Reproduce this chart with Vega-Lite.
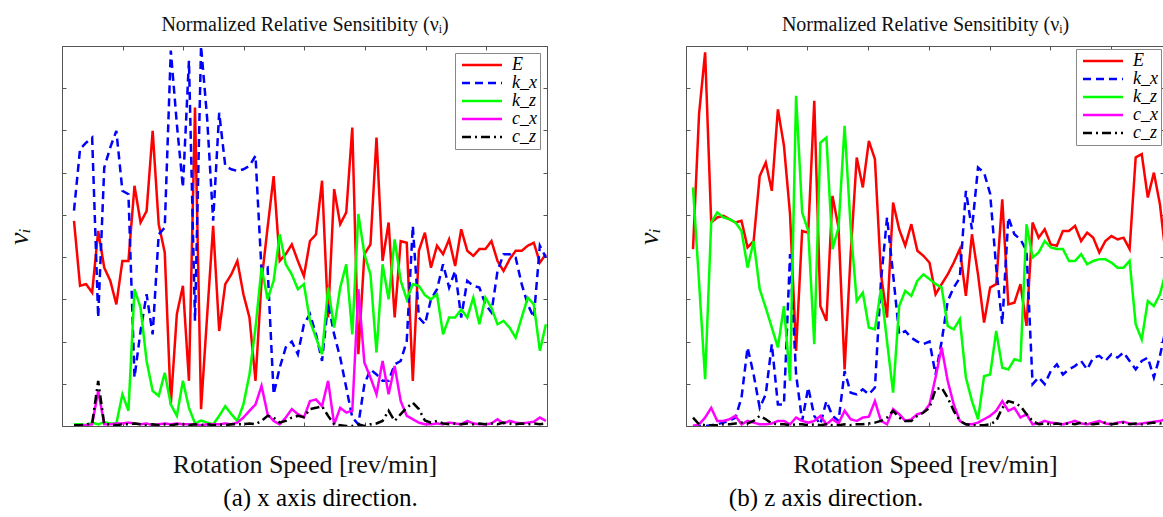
{
  "$schema": "https://vega.github.io/schema/vega-lite/v6.json",
  "padding": {"left": 5, "top": 14, "right": 0, "bottom": 0},
  "spacing": 87,
  "background": "white",
  "config": {
    "view": {"stroke": "#555", "strokeWidth": 1},
    "axis": {"labels": false, "tickSize": -4, "domainColor": "#555", "tickColor": "#555", "grid": false, "titleFont": "Liberation Serif", "titleFontWeight": "normal", "titleColor": "#111"},
    "legend": {"symbolType": "M-1,0H7", "symbolSize": 100, "symbolStrokeWidth": 2.5, "labelFont": "Liberation Serif", "labelFontSize": 18, "labelFontStyle": "italic", "labelColor": "#000", "labelOffset": 36, "strokeColor": "#888", "fillColor": "white", "padding": 3, "rowPadding": 0, "orient": "top-right"}
  },
  "datasets": {
    "a": [
      {"i":1,"E":0.486,"k_x":0.51,"k_z":0.004,"c_x":0.002,"c_z":0.002},
      {"i":2,"E":0.332,"k_x":0.656,"k_z":0.004,"c_x":0.002,"c_z":0.002},
      {"i":3,"E":0.336,"k_x":0.671,"k_z":0.002,"c_x":0.002,"c_z":0.004},
      {"i":4,"E":0.316,"k_x":0.683,"k_z":0.008,"c_x":0.004,"c_z":0.006},
      {"i":5,"E":0.462,"k_x":0.257,"k_z":0.004,"c_x":0.083,"c_z":0.107},
      {"i":6,"E":0.375,"k_x":0.612,"k_z":0.009,"c_x":0.004,"c_z":0.004},
      {"i":7,"E":0.344,"k_x":0.66,"k_z":0.006,"c_x":0.004,"c_z":0.004},
      {"i":8,"E":0.288,"k_x":0.699,"k_z":0.006,"c_x":0.006,"c_z":0.002},
      {"i":9,"E":0.391,"k_x":0.557,"k_z":0.075,"c_x":0.006,"c_z":0.004},
      {"i":10,"E":0.391,"k_x":0.549,"k_z":0.036,"c_x":0.008,"c_z":0.004},
      {"i":11,"E":0.569,"k_x":0.115,"k_z":0.324,"c_x":0.006,"c_z":0.006},
      {"i":12,"E":0.482,"k_x":0.225,"k_z":0.28,"c_x":0.004,"c_z":0.004},
      {"i":13,"E":0.509,"k_x":0.312,"k_z":0.154,"c_x":0.006,"c_z":0.002},
      {"i":14,"E":0.699,"k_x":0.217,"k_z":0.083,"c_x":0.002,"c_z":0.004},
      {"i":15,"E":0.478,"k_x":0.454,"k_z":0.071,"c_x":0.004,"c_z":0.002},
      {"i":16,"E":0.411,"k_x":0.47,"k_z":0.126,"c_x":0.006,"c_z":0.004},
      {"i":17,"E":0.051,"k_x":0.889,"k_z":0.051,"c_x":0.004,"c_z":0.002},
      {"i":18,"E":0.265,"k_x":0.715,"k_z":0.024,"c_x":0.006,"c_z":0.004},
      {"i":19,"E":0.332,"k_x":0.565,"k_z":0.107,"c_x":0.004,"c_z":0.004},
      {"i":20,"E":0.107,"k_x":0.865,"k_z":0.043,"c_x":0.004,"c_z":0.002},
      {"i":21,"E":0.754,"k_x":0.249,"k_z":0.006,"c_x":0.004,"c_z":0.004},
      {"i":22,"E":0.04,"k_x":0.9,"k_z":0.013,"c_x":0.002,"c_z":0.002},
      {"i":23,"E":0.26,"k_x":0.73,"k_z":0.008,"c_x":0.004,"c_z":0.004},
      {"i":24,"E":0.474,"k_x":0.486,"k_z":0.004,"c_x":0.004,"c_z":0.002},
      {"i":25,"E":0.225,"k_x":0.742,"k_z":0.024,"c_x":0.004,"c_z":0.004},
      {"i":26,"E":0.336,"k_x":0.616,"k_z":0.047,"c_x":0.006,"c_z":0.002},
      {"i":27,"E":0.359,"k_x":0.608,"k_z":0.028,"c_x":0.004,"c_z":0.004},
      {"i":28,"E":0.391,"k_x":0.604,"k_z":0.012,"c_x":0.008,"c_z":0.004},
      {"i":29,"E":0.312,"k_x":0.608,"k_z":0.051,"c_x":0.02,"c_z":0.004},
      {"i":30,"E":0.257,"k_x":0.616,"k_z":0.122,"c_x":0.036,"c_z":0.006},
      {"i":31,"E":0.107,"k_x":0.64,"k_z":0.233,"c_x":0.051,"c_z":0.004},
      {"i":32,"E":0.344,"k_x":0.367,"k_z":0.375,"c_x":0.095,"c_z":0.012},
      {"i":33,"E":0.47,"k_x":0.375,"k_z":0.3,"c_x":0.028,"c_z":0.024},
      {"i":34,"E":0.592,"k_x":0.075,"k_z":0.344,"c_x":0.012,"c_z":0.02},
      {"i":35,"E":0.391,"k_x":0.138,"k_z":0.454,"c_x":0.004,"c_z":0.008},
      {"i":36,"E":0.407,"k_x":0.186,"k_z":0.383,"c_x":0.02,"c_z":0.012},
      {"i":37,"E":0.43,"k_x":0.2,"k_z":0.359,"c_x":0.04,"c_z":0.02},
      {"i":38,"E":0.391,"k_x":0.17,"k_z":0.324,"c_x":0.028,"c_z":0.024},
      {"i":39,"E":0.355,"k_x":0.241,"k_z":0.336,"c_x":0.02,"c_z":0.021},
      {"i":40,"E":0.438,"k_x":0.265,"k_z":0.249,"c_x":0.059,"c_z":0.04},
      {"i":41,"E":0.454,"k_x":0.217,"k_z":0.209,"c_x":0.063,"c_z":0.043},
      {"i":42,"E":0.581,"k_x":0.154,"k_z":0.17,"c_x":0.047,"c_z":0.047},
      {"i":43,"E":0.257,"k_x":0.292,"k_z":0.328,"c_x":0.107,"c_z":0.024},
      {"i":44,"E":0.561,"k_x":0.217,"k_z":0.233,"c_x":0.004,"c_z":0.004},
      {"i":45,"E":0.478,"k_x":0.162,"k_z":0.328,"c_x":0.043,"c_z":0.002},
      {"i":46,"E":0.506,"k_x":0.091,"k_z":0.383,"c_x":0.032,"c_z":0},
      {"i":47,"E":0.707,"k_x":0.02,"k_z":0.217,"c_x":0.036,"c_z":0},
      {"i":48,"E":0.17,"k_x":0.004,"k_z":0.502,"c_x":0.324,"c_z":0.004},
      {"i":49,"E":0.407,"k_x":0.099,"k_z":0.407,"c_x":0.15,"c_z":0},
      {"i":50,"E":0.43,"k_x":0.134,"k_z":0.359,"c_x":0.115,"c_z":0.004},
      {"i":51,"E":0.683,"k_x":0.122,"k_z":0.174,"c_x":0.075,"c_z":0.006},
      {"i":52,"E":0.391,"k_x":0.107,"k_z":0.383,"c_x":0.154,"c_z":0.012},
      {"i":53,"E":0.482,"k_x":0.107,"k_z":0.3,"c_x":0.075,"c_z":0.036},
      {"i":54,"E":0.257,"k_x":0.146,"k_z":0.442,"c_x":0.142,"c_z":0.012},
      {"i":55,"E":0.438,"k_x":0.154,"k_z":0.344,"c_x":0.059,"c_z":0.028},
      {"i":56,"E":0.434,"k_x":0.201,"k_z":0.3,"c_x":0.024,"c_z":0.043},
      {"i":57,"E":0.107,"k_x":0.474,"k_z":0.336,"c_x":0.016,"c_z":0.055},
      {"i":58,"E":0.415,"k_x":0.257,"k_z":0.332,"c_x":0.008,"c_z":0.04},
      {"i":59,"E":0.458,"k_x":0.241,"k_z":0.31,"c_x":0.004,"c_z":0.013},
      {"i":60,"E":0.375,"k_x":0.3,"k_z":0.3,"c_x":0.004,"c_z":0.008},
      {"i":61,"E":0.427,"k_x":0.324,"k_z":0.312,"c_x":0.006,"c_z":0.012},
      {"i":62,"E":0.407,"k_x":0.383,"k_z":0.217,"c_x":0.004,"c_z":0.006},
      {"i":63,"E":0.442,"k_x":0.328,"k_z":0.257,"c_x":0.008,"c_z":0.004},
      {"i":64,"E":0.379,"k_x":0.367,"k_z":0.257,"c_x":0.006,"c_z":0.006},
      {"i":65,"E":0.466,"k_x":0.257,"k_z":0.276,"c_x":0.004,"c_z":0.004},
      {"i":66,"E":0.415,"k_x":0.344,"k_z":0.257,"c_x":0.012,"c_z":0.006},
      {"i":67,"E":0.403,"k_x":0.332,"k_z":0.304,"c_x":0.006,"c_z":0.004},
      {"i":68,"E":0.419,"k_x":0.328,"k_z":0.241,"c_x":0.004,"c_z":0.006},
      {"i":69,"E":0.419,"k_x":0.288,"k_z":0.304,"c_x":0.004,"c_z":0.004},
      {"i":70,"E":0.438,"k_x":0.269,"k_z":0.28,"c_x":0.006,"c_z":0.006},
      {"i":71,"E":0.391,"k_x":0.367,"k_z":0.241,"c_x":0.016,"c_z":0.004},
      {"i":72,"E":0.367,"k_x":0.407,"k_z":0.249,"c_x":0.006,"c_z":0.008},
      {"i":73,"E":0.395,"k_x":0.407,"k_z":0.233,"c_x":0.012,"c_z":0.006},
      {"i":74,"E":0.415,"k_x":0.399,"k_z":0.209,"c_x":0.008,"c_z":0.004},
      {"i":75,"E":0.415,"k_x":0.336,"k_z":0.257,"c_x":0.006,"c_z":0.006},
      {"i":76,"E":0.427,"k_x":0.288,"k_z":0.304,"c_x":0.008,"c_z":0.004},
      {"i":77,"E":0.434,"k_x":0.257,"k_z":0.288,"c_x":0.01,"c_z":0.006},
      {"i":78,"E":0.387,"k_x":0.427,"k_z":0.178,"c_x":0.02,"c_z":0.004},
      {"i":79,"E":0.407,"k_x":0.399,"k_z":0.241,"c_x":0.012,"c_z":0.006}
    ],
    "b": [
      {"i":1,"E":0.419,"k_x":0,"k_z":0.565,"c_x":0,"c_z":0.02},
      {"i":2,"E":0.739,"k_x":0,"k_z":0.34,"c_x":0.004,"c_z":0.004},
      {"i":3,"E":0.885,"k_x":0,"k_z":0.111,"c_x":0.02,"c_z":0.002},
      {"i":4,"E":0.482,"k_x":0.002,"k_z":0.482,"c_x":0.043,"c_z":0.002},
      {"i":5,"E":0.494,"k_x":0.004,"k_z":0.506,"c_x":0.012,"c_z":0.002},
      {"i":6,"E":0.498,"k_x":0.008,"k_z":0.494,"c_x":0.012,"c_z":0.004},
      {"i":7,"E":0.49,"k_x":0.012,"k_z":0.49,"c_x":0.016,"c_z":0.004},
      {"i":8,"E":0.482,"k_x":0.02,"k_z":0.482,"c_x":0.024,"c_z":0.006},
      {"i":9,"E":0.486,"k_x":0.067,"k_z":0.462,"c_x":0.004,"c_z":0.008},
      {"i":10,"E":0.423,"k_x":0.186,"k_z":0.375,"c_x":0.012,"c_z":0.006},
      {"i":11,"E":0.438,"k_x":0.122,"k_z":0.438,"c_x":0.008,"c_z":0.012},
      {"i":12,"E":0.592,"k_x":0.043,"k_z":0.324,"c_x":0.004,"c_z":0.024},
      {"i":13,"E":0.624,"k_x":0.075,"k_z":0.28,"c_x":0.004,"c_z":0.016},
      {"i":14,"E":0.557,"k_x":0.194,"k_z":0.233,"c_x":0.006,"c_z":0.006},
      {"i":15,"E":0.75,"k_x":0.051,"k_z":0.186,"c_x":0.012,"c_z":0.004},
      {"i":16,"E":0.664,"k_x":0.051,"k_z":0.284,"c_x":0.012,"c_z":0.004},
      {"i":17,"E":0.502,"k_x":0.407,"k_z":0.107,"c_x":0.004,"c_z":0.002},
      {"i":18,"E":0.178,"k_x":0.122,"k_z":0.782,"c_x":0.02,"c_z":0.004},
      {"i":19,"E":0.462,"k_x":0.012,"k_z":0.506,"c_x":0.012,"c_z":0.004},
      {"i":20,"E":0.458,"k_x":0.091,"k_z":0.462,"c_x":0.008,"c_z":0.002},
      {"i":21,"E":0.77,"k_x":0.024,"k_z":0.194,"c_x":0.012,"c_z":0.004},
      {"i":22,"E":0.284,"k_x":0.004,"k_z":0.671,"c_x":0.024,"c_z":0.002},
      {"i":23,"E":0.249,"k_x":0.059,"k_z":0.683,"c_x":0.004,"c_z":0.004},
      {"i":24,"E":0.545,"k_x":0.024,"k_z":0.419,"c_x":0.016,"c_z":0.002},
      {"i":25,"E":0.47,"k_x":0.012,"k_z":0.47,"c_x":0.006,"c_z":0.002},
      {"i":26,"E":0.134,"k_x":0.13,"k_z":0.711,"c_x":0.036,"c_z":0.004},
      {"i":27,"E":0.407,"k_x":0.079,"k_z":0.47,"c_x":0.016,"c_z":0.002},
      {"i":28,"E":0.636,"k_x":0.075,"k_z":0.296,"c_x":0.012,"c_z":0.004},
      {"i":29,"E":0.565,"k_x":0.087,"k_z":0.316,"c_x":0.02,"c_z":0.004},
      {"i":30,"E":0.675,"k_x":0.075,"k_z":0.233,"c_x":0.022,"c_z":0.006},
      {"i":31,"E":0.632,"k_x":0.091,"k_z":0.229,"c_x":0.059,"c_z":0.008},
      {"i":32,"E":0.359,"k_x":0.344,"k_z":0.324,"c_x":0.012,"c_z":0.012},
      {"i":33,"E":0.257,"k_x":0.494,"k_z":0.2,"c_x":0.004,"c_z":0.02},
      {"i":34,"E":0.529,"k_x":0.359,"k_z":0.079,"c_x":0.04,"c_z":0.036},
      {"i":35,"E":0.466,"k_x":0.217,"k_z":0.284,"c_x":0.028,"c_z":0.02},
      {"i":36,"E":0.427,"k_x":0.225,"k_z":0.32,"c_x":0.012,"c_z":0.012},
      {"i":37,"E":0.478,"k_x":0.209,"k_z":0.308,"c_x":0.016,"c_z":0.012},
      {"i":38,"E":0.415,"k_x":0.2,"k_z":0.344,"c_x":0.028,"c_z":0.024},
      {"i":39,"E":0.403,"k_x":0.194,"k_z":0.359,"c_x":0.032,"c_z":0.032},
      {"i":40,"E":0.387,"k_x":0.2,"k_z":0.348,"c_x":0.051,"c_z":0.043},
      {"i":41,"E":0.312,"k_x":0.122,"k_z":0.336,"c_x":0.115,"c_z":0.087},
      {"i":42,"E":0.336,"k_x":0.2,"k_z":0.328,"c_x":0.186,"c_z":0.091},
      {"i":43,"E":0.359,"k_x":0.296,"k_z":0.237,"c_x":0.107,"c_z":0.067},
      {"i":44,"E":0.387,"k_x":0.328,"k_z":0.229,"c_x":0.051,"c_z":0.036},
      {"i":45,"E":0.419,"k_x":0.351,"k_z":0.253,"c_x":0.012,"c_z":0.012},
      {"i":46,"E":0.308,"k_x":0.557,"k_z":0.115,"c_x":0.004,"c_z":0.004},
      {"i":47,"E":0.454,"k_x":0.466,"k_z":0.059,"c_x":0.004,"c_z":0.002},
      {"i":48,"E":0.359,"k_x":0.612,"k_z":0.016,"c_x":0.008,"c_z":0.002},
      {"i":49,"E":0.245,"k_x":0.6,"k_z":0.118,"c_x":0.016,"c_z":0.002},
      {"i":50,"E":0.328,"k_x":0.55,"k_z":0.122,"c_x":0.024,"c_z":0.004},
      {"i":51,"E":0.336,"k_x":0.375,"k_z":0.225,"c_x":0.036,"c_z":0.012},
      {"i":52,"E":0.537,"k_x":0.241,"k_z":0.138,"c_x":0.059,"c_z":0.043},
      {"i":53,"E":0.288,"k_x":0.494,"k_z":0.134,"c_x":0.036,"c_z":0.059},
      {"i":54,"E":0.292,"k_x":0.454,"k_z":0.158,"c_x":0.043,"c_z":0.055},
      {"i":55,"E":0.336,"k_x":0.442,"k_z":0.154,"c_x":0.02,"c_z":0.047},
      {"i":56,"E":0.237,"k_x":0.415,"k_z":0.478,"c_x":0.028,"c_z":0.028},
      {"i":57,"E":0.482,"k_x":0.099,"k_z":0.399,"c_x":0.004,"c_z":0.012},
      {"i":58,"E":0.446,"k_x":0.115,"k_z":0.411,"c_x":0.006,"c_z":0.004},
      {"i":59,"E":0.466,"k_x":0.099,"k_z":0.438,"c_x":0.012,"c_z":0.006},
      {"i":60,"E":0.43,"k_x":0.13,"k_z":0.423,"c_x":0.008,"c_z":0.004},
      {"i":61,"E":0.427,"k_x":0.146,"k_z":0.419,"c_x":0.006,"c_z":0.006},
      {"i":62,"E":0.462,"k_x":0.122,"k_z":0.419,"c_x":0.004,"c_z":0.004},
      {"i":63,"E":0.462,"k_x":0.134,"k_z":0.391,"c_x":0.008,"c_z":0.006},
      {"i":64,"E":0.474,"k_x":0.142,"k_z":0.391,"c_x":0.012,"c_z":0.004},
      {"i":65,"E":0.438,"k_x":0.154,"k_z":0.407,"c_x":0.006,"c_z":0.008},
      {"i":66,"E":0.458,"k_x":0.134,"k_z":0.383,"c_x":0.004,"c_z":0.006},
      {"i":67,"E":0.446,"k_x":0.162,"k_z":0.391,"c_x":0.008,"c_z":0.004},
      {"i":68,"E":0.411,"k_x":0.166,"k_z":0.395,"c_x":0.012,"c_z":0.006},
      {"i":69,"E":0.438,"k_x":0.154,"k_z":0.395,"c_x":0.006,"c_z":0.008},
      {"i":70,"E":0.45,"k_x":0.17,"k_z":0.387,"c_x":0.004,"c_z":0.004},
      {"i":71,"E":0.442,"k_x":0.162,"k_z":0.375,"c_x":0.008,"c_z":0.006},
      {"i":72,"E":0.446,"k_x":0.174,"k_z":0.375,"c_x":0.01,"c_z":0.008},
      {"i":73,"E":0.419,"k_x":0.154,"k_z":0.391,"c_x":0.006,"c_z":0.004},
      {"i":74,"E":0.636,"k_x":0.134,"k_z":0.241,"c_x":0.004,"c_z":0.006},
      {"i":75,"E":0.644,"k_x":0.154,"k_z":0.205,"c_x":0.006,"c_z":0.004},
      {"i":76,"E":0.541,"k_x":0.162,"k_z":0.296,"c_x":0.008,"c_z":0.006},
      {"i":77,"E":0.6,"k_x":0.115,"k_z":0.284,"c_x":0.01,"c_z":0.008},
      {"i":78,"E":0.525,"k_x":0.166,"k_z":0.312,"c_x":0.012,"c_z":0.006},
      {"i":79,"E":0.399,"k_x":0.233,"k_z":0.367,"c_x":0.016,"c_z":0.01},
      {"i":80,"E":0.34,"k_x":0.27,"k_z":0.42,"c_x":0.02,"c_z":0.012}
    ]
  },
  "resolve": {"scale": {"x": "independent", "y": "independent", "color": "independent", "strokeDash": "independent"}, "legend": {"color": "independent", "strokeDash": "independent"}},
  "hconcat": [
    {
      "width": 485,
      "height": 380,
      "title": {"text": "(a) x axis direction.", "orient": "bottom", "anchor": "middle", "dx": 16, "offset": 8, "fontSize": 25, "font": "Liberation Serif", "fontWeight": "normal", "color": "#000"},
      "data": {"name": "a"},
      "transform": [{"fold": ["E", "k_x", "k_z", "c_x", "c_z"], "as": ["param", "nu"]}],
      "layer": [
        {
          "mark": {"type": "line", "strokeWidth": 2.5, "clip": true},
          "encoding": {
            "x": {"field": "i", "type": "quantitative", "scale": {"domain": [-0.983, 79.18], "nice": false, "zero": false}, "axis": {"orient": "bottom", "values": [9.03, 19.05, 29.07, 39.08, 49.1, 59.12, 69.14], "title": "Rotation Speed [rev/min]", "titleFont": "Liberation Serif", "titleFontWeight": "normal", "titleFontSize": 26, "titlePadding": 25}},
            "y": {"field": "nu", "type": "quantitative", "scale": {"domain": [0, 0.9], "nice": false, "zero": false}, "axis": {"orient": "left", "values": [0.1, 0.2, 0.3, 0.4, 0.5, 0.6, 0.7, 0.8], "title": "νᵢ", "titleFont": "Liberation Serif", "titleFontWeight": "normal", "titleFontSize": 28, "titleFontStyle": "italic", "titlePadding": 28}},
            "color": {"field": "param", "type": "nominal", "scale": {"domain": ["E", "k_x", "k_z", "c_x", "c_z"], "range": ["#ff0000", "#0000ff", "#00ff00", "#ff00ff", "#000000"]}, "legend": {"title": null, "offset": 7}},
            "strokeDash": {"field": "param", "type": "nominal", "scale": {"domain": ["E", "k_x", "k_z", "c_x", "c_z"], "range": [[1, 0], [8, 5], [1, 0], [1, 0], [9, 4, 2, 4]]}, "legend": {"title": null, "offset": 7}}
          }
        },
        {
          "mark": {"type": "line", "opacity": 0, "clip": true},
          "encoding": {
            "x": {"field": "i", "type": "quantitative", "axis": {"orient": "top", "values": [9.03, 19.05, 29.07, 39.08, 49.1, 59.12, 69.14], "title": "Normalized Relative Sensitibity (νᵢ)", "titleFont": "Liberation Serif", "titleFontWeight": "normal", "titleFontSize": 20, "titlePadding": 11}},
            "y": {"field": "nu", "type": "quantitative", "axis": {"orient": "right", "values": [0.1, 0.2, 0.3, 0.4, 0.5, 0.6, 0.7, 0.8], "title": null}}
          }
        }
      ],
      "resolve": {"axis": {"x": "independent", "y": "independent"}}
    },
    {
      "width": 478,
      "height": 380,
      "title": {"text": "(b) z axis direction.", "orient": "bottom", "anchor": "middle", "dx": -99, "offset": 8, "fontSize": 25, "font": "Liberation Serif", "fontWeight": "normal", "color": "#000"},
      "data": {"name": "b"},
      "transform": [{"fold": ["E", "k_x", "k_z", "c_x", "c_z"], "as": ["param", "nu"]}],
      "layer": [
        {
          "mark": {"type": "line", "strokeWidth": 2.5, "clip": true},
          "encoding": {
            "x": {"field": "i", "type": "quantitative", "scale": {"domain": [-0.154, 78.67], "nice": false, "zero": false}, "axis": {"orient": "bottom", "values": [9.86, 19.87, 29.88, 39.89, 49.9, 59.91, 69.92], "title": "Rotation Speed [rev/min]", "titleFont": "Liberation Serif", "titleFontWeight": "normal", "titleFontSize": 26, "titlePadding": 25}},
            "y": {"field": "nu", "type": "quantitative", "scale": {"domain": [0, 0.9], "nice": false, "zero": false}, "axis": {"orient": "left", "values": [0.1, 0.2, 0.3, 0.4, 0.5, 0.6, 0.7, 0.8], "title": "νᵢ", "titleFont": "Liberation Serif", "titleFontWeight": "normal", "titleFontSize": 28, "titleFontStyle": "italic", "titlePadding": 22}},
            "color": {"field": "param", "type": "nominal", "scale": {"domain": ["E", "k_x", "k_z", "c_x", "c_z"], "range": ["#ff0000", "#0000ff", "#00ff00", "#ff00ff", "#000000"]}, "legend": {"title": null, "offset": 3}},
            "strokeDash": {"field": "param", "type": "nominal", "scale": {"domain": ["E", "k_x", "k_z", "c_x", "c_z"], "range": [[1, 0], [8, 5], [1, 0], [1, 0], [9, 4, 2, 4]]}, "legend": {"title": null, "offset": 3}}
          }
        },
        {
          "mark": {"type": "line", "opacity": 0, "clip": true},
          "encoding": {
            "x": {"field": "i", "type": "quantitative", "axis": {"orient": "top", "values": [9.86, 19.87, 29.88, 39.89, 49.9, 59.91, 69.92], "title": "Normalized Relative Sensitibity (νᵢ)", "titleFont": "Liberation Serif", "titleFontWeight": "normal", "titleFontSize": 20, "titlePadding": 11}},
            "y": {"field": "nu", "type": "quantitative", "axis": {"orient": "right", "values": [0.1, 0.2, 0.3, 0.4, 0.5, 0.6, 0.7, 0.8], "title": null}}
          }
        }
      ],
      "resolve": {"axis": {"x": "independent", "y": "independent"}}
    }
  ]
}
